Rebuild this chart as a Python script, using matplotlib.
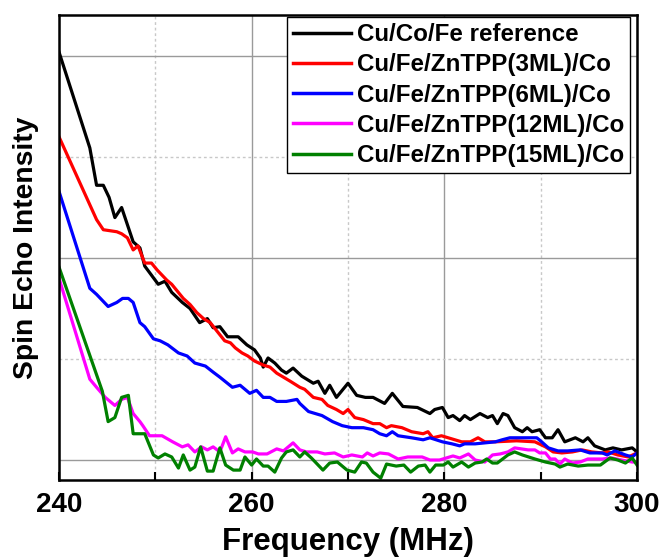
import numpy as np
import matplotlib
matplotlib.use('Agg')
import matplotlib.pyplot as plt
from matplotlib.ticker import MultipleLocator, NullLocator

plt.rcParams['font.family'] = ['Liberation Sans', 'DejaVu Sans']
plt.rcParams['font.weight'] = 'bold'

# Cu/Co/Fe reference
ref_f = [240.0, 243.2, 243.9, 244.6, 245.2, 245.8, 246.5, 247.7, 248.4, 248.9, 250.3, 251.0, 251.7,
         252.8, 253.6, 254.6, 255.4, 256.0, 256.7, 257.5, 258.6, 259.5, 260.3, 260.9, 261.2, 261.7,
         262.4, 263.1, 263.6, 264.3, 265.2, 266.4, 266.9, 267.6, 268.1, 268.8, 270.0, 270.9, 271.8,
         272.6, 273.8, 274.6, 275.7, 277.2, 278.5, 279.0, 279.8, 280.4, 280.9, 281.6, 282.1, 282.7,
         283.7, 284.5, 285.0, 285.5, 286.1, 286.6, 287.3, 288.1, 288.6, 289.1, 289.9, 290.5, 291.2,
         291.8, 292.5, 293.6, 294.4, 294.9, 295.6, 296.7, 297.5, 298.4, 299.5, 300.0]
ref_i = [2.02, 1.545, 1.36, 1.36, 1.30, 1.20, 1.25, 1.08, 1.05, 0.96, 0.87, 0.885, 0.83,
         0.78, 0.75, 0.68, 0.70, 0.655, 0.66, 0.61, 0.61, 0.57, 0.545, 0.505, 0.46, 0.505,
         0.48, 0.445, 0.43, 0.455, 0.415, 0.38, 0.39, 0.33, 0.37, 0.31, 0.38, 0.32, 0.31,
         0.31, 0.28, 0.33, 0.265, 0.26, 0.23, 0.25, 0.26, 0.21, 0.22, 0.195, 0.22, 0.20,
         0.23, 0.21, 0.22, 0.18, 0.23, 0.22, 0.16, 0.14, 0.16, 0.14, 0.15, 0.11, 0.11,
         0.15, 0.09, 0.11, 0.09, 0.11, 0.07, 0.05, 0.06, 0.05, 0.06, 0.04]

# ZnTPP 3 ML
ml3_f = [240.0, 243.9, 244.6, 246.0, 246.5, 247.1, 247.7, 248.2, 248.9, 249.6, 250.2, 251.2, 251.7,
         252.9, 253.6, 254.3, 255.0, 255.7, 256.2, 257.2, 257.8, 258.3, 259.0, 259.6, 260.3, 261.2,
         261.9, 262.6, 263.3, 264.0, 265.0, 265.5, 266.4, 267.3, 267.9, 268.8, 269.5, 270.0, 270.7,
         271.6, 272.6, 273.3, 274.0, 274.5, 275.6, 276.6, 277.8, 278.3, 278.8, 279.7, 280.4, 281.1,
         281.8, 282.7, 283.5, 284.2, 285.3, 287.5, 289.4, 290.5, 291.3, 292.2, 293.3, 294.3, 295.3,
         296.4, 297.0, 298.0, 299.1, 300.0]
ml3_i = [1.60, 1.19, 1.14, 1.13, 1.12, 1.10, 1.04, 1.06, 0.975, 0.975, 0.94, 0.89, 0.87,
         0.80, 0.77, 0.73, 0.70, 0.68, 0.65, 0.59, 0.58, 0.555, 0.53, 0.515, 0.49, 0.47,
         0.46, 0.43, 0.41, 0.39, 0.36, 0.35, 0.31, 0.30, 0.27, 0.25, 0.23, 0.25, 0.21,
         0.20, 0.18, 0.18, 0.16, 0.17, 0.16, 0.14, 0.13, 0.14, 0.11, 0.12, 0.11, 0.10,
         0.09, 0.09, 0.11, 0.09, 0.09, 0.095, 0.09, 0.065, 0.04, 0.035, 0.04, 0.05, 0.04,
         0.035, 0.04, 0.025, 0.015, 0.035]

# ZnTPP 6 ML
ml6_f = [240.0, 243.2, 243.9, 245.1, 246.0, 246.6, 247.2, 247.7, 248.4, 248.9, 249.8, 250.5, 251.3,
         252.4, 253.3, 254.1, 255.2, 256.0, 256.7, 258.0, 258.8, 259.8, 260.5, 261.2, 261.9, 262.6,
         263.6, 264.7, 265.0, 265.9, 266.6, 267.3, 268.4, 269.4, 270.4, 271.6, 272.6, 273.3, 274.0,
         274.6, 275.2, 276.6, 277.8, 278.5, 279.8, 280.8, 281.6, 282.1, 283.2, 285.3, 286.0, 286.8,
         289.6, 290.1, 290.8, 291.8, 292.8, 294.1, 295.1, 296.4, 296.9, 297.7, 298.8, 299.5, 300.0]
ml6_i = [1.33, 0.85, 0.82, 0.76, 0.78, 0.80, 0.80, 0.78, 0.68, 0.66, 0.60, 0.59, 0.57,
         0.53, 0.515, 0.48, 0.465, 0.435, 0.41, 0.36, 0.37, 0.33, 0.345, 0.31, 0.31, 0.29,
         0.29, 0.30, 0.28, 0.24, 0.23, 0.22, 0.19, 0.17, 0.16, 0.16, 0.15, 0.13, 0.12,
         0.14, 0.12, 0.11, 0.10, 0.11, 0.09, 0.08, 0.07, 0.08, 0.08, 0.09, 0.10, 0.11,
         0.11, 0.09, 0.06, 0.045, 0.045, 0.05, 0.035, 0.035, 0.025, 0.045, 0.025, 0.015, 0.035]

# ZnTPP 12 ML
ml12_f = [240.0, 243.2, 243.9, 244.8, 245.8, 246.5, 247.1, 247.7, 248.4, 248.7, 249.4, 250.7, 251.8,
          252.8, 253.4, 254.1, 254.8, 255.4, 256.0, 256.7, 257.3, 258.0, 258.6, 259.3, 260.1, 260.7,
          261.6, 262.6, 263.3, 264.3, 265.0, 265.7, 266.8, 267.6, 268.6, 269.5, 270.4, 271.5, 272.0,
          272.6, 273.3, 274.2, 275.2, 276.2, 277.7, 278.5, 279.5, 280.9, 281.6, 282.5, 283.2, 284.2,
          285.0, 285.8, 286.6, 287.3, 288.7, 289.4, 289.9, 290.5, 291.0, 291.5, 292.0, 292.5, 293.3,
          294.1, 294.9, 296.4, 297.4, 298.4, 299.5, 300.0]
ml12_i = [0.90, 0.40, 0.36, 0.31, 0.27, 0.30, 0.31, 0.23, 0.19, 0.17, 0.12, 0.12, 0.09,
          0.065, 0.075, 0.04, 0.065, 0.05, 0.065, 0.04, 0.115, 0.035, 0.055, 0.04, 0.04, 0.03,
          0.03, 0.055, 0.045, 0.085, 0.05, 0.04, 0.04, 0.03, 0.035, 0.015, 0.025, 0.015, 0.035,
          0.02, 0.035, 0.03, 0.005, 0.015, 0.015, 0.0, 0.0, 0.02, 0.01, 0.03, 0.0, -0.01,
          0.025, 0.03, 0.04, 0.06, 0.05, 0.05, 0.035, 0.035, 0.005, 0.005, -0.02, 0.005, -0.015,
          -0.01, 0.005, 0.005, 0.01, 0.0, -0.01, -0.01]

# ZnTPP 15 ML
ml15_f = [240.0, 244.5, 245.1, 245.8, 246.5, 247.2, 247.7, 248.9, 249.8, 250.3, 251.0, 251.7, 252.4,
          252.9, 253.6, 254.1, 254.7, 255.4, 256.0, 256.7, 257.3, 258.1, 258.8, 259.3, 260.0, 260.5,
          261.2, 261.7, 262.4, 263.1, 263.6, 264.3, 265.0, 265.5, 266.2, 267.4, 268.1, 268.9, 269.9,
          270.7, 271.4, 271.9, 272.6, 273.4, 274.0, 275.0, 275.8, 276.5, 277.3, 278.0, 278.5, 279.1,
          279.9, 280.4, 280.9, 281.8, 282.5, 283.2, 283.9, 284.4, 285.0, 285.5, 286.6, 287.3, 288.1,
          289.4, 290.5, 291.5, 292.0, 292.8, 293.9, 294.9, 296.2, 297.2, 298.0, 298.8, 299.5, 300.0]
ml15_i = [0.955, 0.34, 0.19, 0.21, 0.31, 0.32, 0.13, 0.13, 0.025, 0.01, 0.03, 0.015, -0.04,
          0.025, -0.05, -0.035, 0.065, -0.055, -0.055, 0.06, -0.025, -0.05, -0.05, 0.015, -0.025, 0.005,
          -0.03, -0.03, -0.06, 0.01, 0.04, 0.05, 0.015, 0.04, 0.01, -0.05, -0.015, -0.01, -0.05,
          -0.06, -0.01, -0.015, -0.06, -0.09, -0.02, -0.03, -0.025, -0.06, -0.03, -0.025, -0.06, -0.025,
          -0.025, -0.01, -0.035, -0.01, -0.035, -0.015, -0.01, 0.005, -0.015, -0.015, 0.025, 0.04, 0.025,
          0.005, -0.01, -0.02, -0.035, -0.02, -0.03, -0.025, -0.025, 0.01, 0.0, -0.015, 0.01, -0.025]

series = [
    (ref_f, ref_i, 'black', 'Cu/Co/Fe reference'),
    (ml3_f, ml3_i, '#ff0000', 'Cu/Fe/ZnTPP(3ML)/Co'),
    (ml6_f, ml6_i, '#0000ff', 'Cu/Fe/ZnTPP(6ML)/Co'),
    (ml12_f, ml12_i, '#ff00ff', 'Cu/Fe/ZnTPP(12ML)/Co'),
    (ml15_f, ml15_i, '#008000', 'Cu/Fe/ZnTPP(15ML)/Co'),
]

fig = plt.figure(figsize=(6.62, 5.59), dpi=100)
ax = fig.add_axes([59 / 662, 1 - 480 / 559, 578 / 662, 465 / 559])

for f, y, c, lab in series:
    ax.plot(f, y, color=c, lw=2.3, label=lab)

ax.set_xlim(240, 300)
ax.set_ylim(-0.099, 2.203)

ax.xaxis.set_major_locator(MultipleLocator(20))
ax.xaxis.set_minor_locator(MultipleLocator(10))
ax.yaxis.set_major_locator(MultipleLocator(1))
ax.yaxis.set_minor_locator(MultipleLocator(0.5))
ax.set_yticklabels([])
ax.tick_params(axis='y', which='both', length=0)
ax.tick_params(axis='x', which='both', direction='in', length=6, width=1.5,
               top=False, labelsize=20, pad=9)

ax.grid(which='major', color='#9a9a9a', lw=1.0, ls='-')
ax.grid(which='minor', color='#c8c8c8', lw=1.0, ls=(0, (2, 2)))
ax.set_axisbelow(True)

for s in ax.spines.values():
    s.set_linewidth(1.8)

ax.set_xlabel('Frequency (MHz)', fontsize=22.5, fontweight='bold', labelpad=6)
ax.set_ylabel('Spin Echo Intensity', fontsize=20.3, fontweight='bold', labelpad=11)

leg = ax.legend(loc='upper right', bbox_to_anchor=(1 - 7 / 578, 1 - 2 / 465), borderaxespad=0,
                fontsize=17.4, handlelength=2.4, handletextpad=0.25, labelspacing=0.3,
                borderpad=0.25, fancybox=False, framealpha=1, edgecolor='black')
leg.get_frame().set_linewidth(1.0)
for line in leg.get_lines():
    line.set_linewidth(2.5)

fig.savefig('out.png', dpi=100)
